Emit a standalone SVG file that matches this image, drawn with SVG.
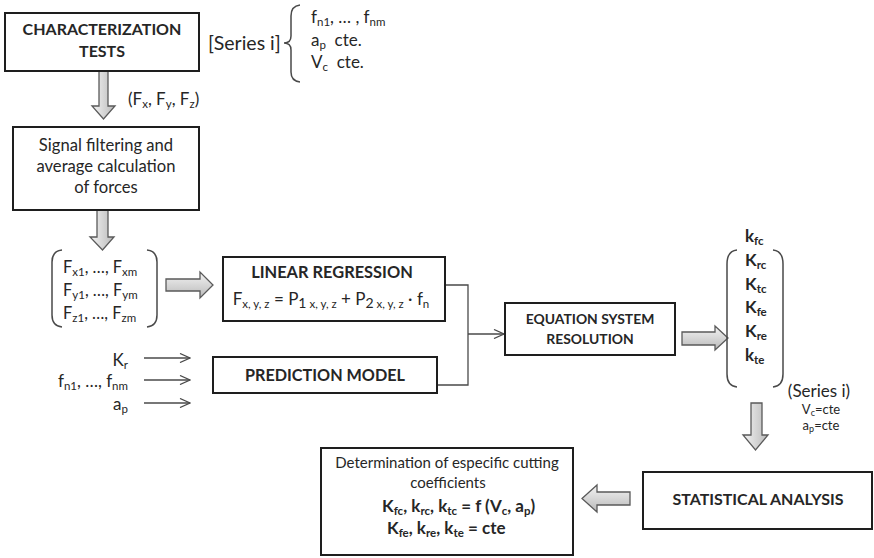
<svg xmlns="http://www.w3.org/2000/svg" width="874" height="558" viewBox="0 0 874 558">
  <style>
    text { font-family: Lato, "Open Sans", "Liberation Sans", sans-serif; fill: #262626; font-size: 17px; }
    .b { font-weight: bold; }
    .c { text-anchor: middle; }
    .e { text-anchor: end; }
    .s { font-size: 11.5px; }
    .box { fill: #ffffff; stroke: #1e1e1e; stroke-width: 2; }
    .fat { fill: url(#fatFill); stroke: #5a5a5a; stroke-width: 1.3; stroke-linejoin: miter; }
    .fatV { fill: url(#fatFillV); stroke: #5a5a5a; stroke-width: 1.3; stroke-linejoin: miter; }
    .paren { fill: none; stroke: #4a4a4a; stroke-width: 1.5; }
    .wire { fill: none; stroke: #4a4a4a; stroke-width: 1.3; }
  </style>
  <defs>
    <linearGradient id="fatFill" x1="0" y1="0" x2="0" y2="1">
      <stop offset="0" stop-color="#f4f4f4"/>
      <stop offset="1" stop-color="#b9b9b9"/>
    </linearGradient>
    <linearGradient id="fatFillV" x1="0" y1="0" x2="1" y2="0">
      <stop offset="0" stop-color="#f4f4f4"/>
      <stop offset="1" stop-color="#b9b9b9"/>
    </linearGradient>
    <marker id="open" viewBox="0 0 12 10" refX="11" refY="5" markerWidth="12" markerHeight="10" markerUnits="userSpaceOnUse" orient="auto">
      <path d="M1,0.5 L11,5 L1,9.5" fill="none" stroke="#4a4a4a" stroke-width="1.3"/>
    </marker>
  </defs>

  <!-- wide block arrows between stages -->
  <g id="block-arrows">
    <path class="fatV" d="M99,71 L108,71 L108,106 L115,106 L103.5,119 L92,106 L99,106 Z"/>
    <path class="fatV" d="M97,210 L108,210 L108,237 L114,237 L102.5,250 L90,237 L97,237 Z"/>
    <path class="fat" d="M166,279 L200,279 L200,272 L213,285 L200,298 L200,291 L166,291 Z"/>
    <path class="fat" d="M682,332 L715,332 L715,326 L728,338 L715,350 L715,345 L682,345 Z"/>
    <path class="fatV" d="M751,403 L762,403 L762,435 L768,435 L755.5,450 L743,435 L751,435 Z"/>
    <path class="fat" d="M630,492 L597,492 L597,485 L582,498.5 L597,512 L597,505 L630,505 Z"/>
  </g>

  <!-- thin connectors -->
  <g id="connectors">
    <path class="wire" d="M445,285 L468,285 L468,385 L437,385"/>
    <path class="wire" d="M468,334 L504,334" marker-end="url(#open)"/>
    <path class="wire" d="M144,358 L190,358" marker-end="url(#open)"/>
    <path class="wire" d="M144,380 L190,380" marker-end="url(#open)"/>
    <path class="wire" d="M144,403 L190,403" marker-end="url(#open)"/>
  </g>

  <g id="characterization-tests">
    <rect class="box" x="5" y="13" width="194" height="58"/>
    <text class="b c" x="102" y="35" style="font-size:16px">CHARACTERIZATION</text>
    <text class="b c" x="102" y="57" style="font-size:16px">TESTS</text>
  </g>

  <g id="series-conditions">
    <text x="208" y="50" style="font-size:19.5px">[Series i]</text>
    <path class="paren" d="M300,5 Q291,6 291,16 L291,36 Q291,43 284,43 Q291,43 291,50 L291,72 Q291,81 300,82"/>
    <text x="311" y="23">f<tspan class="s" dy="3">n1</tspan><tspan dy="-3">, … , f</tspan><tspan class="s" dy="3">nm</tspan></text>
    <text x="311" y="46">a<tspan class="s" dy="3">p</tspan><tspan dy="-3">&#160;&#160;cte.</tspan></text>
    <text x="311" y="68">V<tspan class="s" dy="3">c</tspan><tspan dy="-3">&#160;&#160;cte.</tspan></text>
  </g>

  <g id="force-label">
    <text x="128" y="105">(F<tspan class="s" dy="3">x</tspan><tspan dy="-3">, F</tspan><tspan class="s" dy="3">y</tspan><tspan dy="-3">, F</tspan><tspan class="s" dy="3">z</tspan><tspan dy="-3">)</tspan></text>
  </g>

  <g id="signal-filtering">
    <rect class="box" x="13" y="127" width="186" height="83"/>
    <text class="c" x="106" y="151" style="font-size:16.6px">Signal filtering and</text>
    <text class="c" x="106" y="172" style="font-size:16.6px">average calculation</text>
    <text class="c" x="106" y="193" style="font-size:16.6px">of forces</text>
  </g>

  <g id="force-matrix">
    <path class="paren" d="M62,250 Q52,251 52,262 L52,315 Q52,326 62,327"/>
    <path class="paren" d="M147,250 Q157,251 157,262 L157,315 Q157,326 147,327"/>
    <text x="63" y="273" style="font-size:16.4px">F<tspan class="s" dy="3">x1</tspan><tspan dy="-3">, …, F</tspan><tspan class="s" dy="3">xm</tspan></text>
    <text x="63" y="296" style="font-size:16.4px">F<tspan class="s" dy="3">y1</tspan><tspan dy="-3">, …, F</tspan><tspan class="s" dy="3">ym</tspan></text>
    <text x="63" y="319" style="font-size:16.4px">F<tspan class="s" dy="3">z1</tspan><tspan dy="-3">, …, F</tspan><tspan class="s" dy="3">zm</tspan></text>
  </g>

  <g id="linear-regression">
    <rect class="box" x="223" y="257" width="222" height="64"/>
    <text class="b c" x="332" y="278" style="font-size:16.4px">LINEAR REGRESSION</text>
    <text class="c" x="331" y="305">F<tspan class="s" dy="3">x, y, z</tspan><tspan dy="-3"> = P</tspan><tspan dy="3" style="font-size:14px">1</tspan><tspan class="s"> x, y, z</tspan><tspan dy="-3"> + P</tspan><tspan dy="3" style="font-size:14px">2</tspan><tspan class="s"> x, y, z</tspan><tspan dy="-3"> · f</tspan><tspan class="s" dy="3">n</tspan></text>
  </g>

  <g id="model-inputs">
    <text class="e" x="128" y="366">K<tspan class="s" dy="3">r</tspan></text>
    <text class="e" x="128" y="387">f<tspan class="s" dy="3">n1</tspan><tspan dy="-3">, …, f</tspan><tspan class="s" dy="3">nm</tspan></text>
    <text class="e" x="128" y="410">a<tspan class="s" dy="3">p</tspan></text>
  </g>

  <g id="prediction-model">
    <rect class="box" x="213" y="357" width="224" height="36"/>
    <text class="b c" x="325" y="381" style="font-size:16.2px">PREDICTION MODEL</text>
  </g>

  <g id="equation-system">
    <rect class="box" x="505" y="303" width="170" height="52"/>
    <text class="b c" x="590" y="324" style="font-size:13.9px">EQUATION SYSTEM</text>
    <text class="b c" x="590" y="344" style="font-size:13.9px">RESOLUTION</text>
  </g>

  <g id="coefficient-vector">
    <path class="paren" d="M737,250 Q727,251 727,264 L727,374 Q727,386 737,387"/>
    <path class="paren" d="M773,250 Q783,251 783,264 L783,374 Q783,386 773,387"/>
    <text class="b" x="745" y="242">k<tspan class="s" dy="3">fc</tspan></text>
    <text class="b" x="745" y="266">K<tspan class="s" dy="3">rc</tspan></text>
    <text class="b" x="745" y="290">K<tspan class="s" dy="3">tc</tspan></text>
    <text class="b" x="745" y="313">K<tspan class="s" dy="3">fe</tspan></text>
    <text class="b" x="745" y="337">K<tspan class="s" dy="3">re</tspan></text>
    <text class="b" x="745" y="361">k<tspan class="s" dy="3">te</tspan></text>
    <text class="c" x="819" y="397">(Series i)</text>
    <text class="c" x="821" y="414" style="font-size:13px">V<tspan style="font-size:9px" dy="2">c</tspan><tspan dy="-2">=cte</tspan></text>
    <text class="c" x="821" y="430" style="font-size:13px">a<tspan style="font-size:9px" dy="2">p</tspan><tspan dy="-2">=cte</tspan></text>
  </g>

  <g id="statistical-analysis">
    <rect class="box" x="643" y="472" width="229" height="57"/>
    <text class="b c" x="758" y="505" style="font-size:16px">STATISTICAL ANALYSIS</text>
  </g>

  <g id="cutting-coefficients">
    <rect class="box" x="321" y="448" width="252" height="107"/>
    <text class="c" x="447" y="468" style="font-size:15px">Determination of especific cutting</text>
    <text class="c" x="448" y="488" style="font-size:15px">coefficients</text>
    <text class="b" x="382" y="512">K<tspan class="s" dy="2.5">fc</tspan><tspan dy="-2.5">, k</tspan><tspan class="s" dy="2.5">rc</tspan><tspan dy="-2.5">, k</tspan><tspan class="s" dy="2.5">tc</tspan><tspan dy="-2.5"> = f (V</tspan><tspan class="s" dy="2.5">c</tspan><tspan dy="-2.5">, a</tspan><tspan class="s" dy="2.5">p</tspan><tspan dy="-2.5">)</tspan></text>
    <text class="b" x="387" y="534">K<tspan class="s" dy="2.5">fe</tspan><tspan dy="-2.5">, k</tspan><tspan class="s" dy="2.5">re</tspan><tspan dy="-2.5">, k</tspan><tspan class="s" dy="2.5">te</tspan><tspan dy="-2.5"> = cte</tspan></text>
  </g>
</svg>
